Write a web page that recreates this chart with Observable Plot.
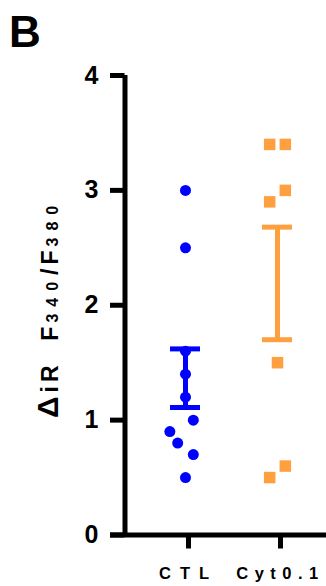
<!DOCTYPE html>
<html><head><meta charset="utf-8">
<script src="https://cdn.jsdelivr.net/npm/d3@7"></script>
<script src="https://cdn.jsdelivr.net/npm/@observablehq/plot@0.6"></script>
<style>
body{margin:0;background:#fff;}
#chart{position:absolute;left:0;top:0;}
</style></head><body>
<div id="chart"></div>
<script>
const categories = ["CTL", "Cyt0.1"];
const ctlValues = [3.0, 2.5, 1.6, 1.4, 1.2, 1.0, 0.9, 0.8, 0.7, 0.5];
const ctlJitter = [0, 0, 0, 0, 0, 0.085, -0.17, -0.085, 0.085, 0];
const cytValues = [3.4, 3.4, 3.0, 2.9, 1.5, 0.6, 0.5];
const cytJitter = [-0.085, 0.085, 0.085, -0.085, 0, 0.085, -0.085];
const errLow = [1.11, 1.70];
const errHigh = [1.62, 2.68];
const yTicks = [0, 1, 2, 3, 4];
const colors = ["#0000ff", "#ffa040"];
const labelSpacing = [9, 6.5];

const ctl = ctlValues.map((v, i) => ({x: 0 + ctlJitter[i], y: v}));
const cyt = cytValues.map((v, i) => ({x: 1 + cytJitter[i], y: v}));
const err = categories.map((c, i) => ({x: i, lo: errLow[i], hi: errHigh[i], c: colors[i]}));
const xDomain = [-0.6576, 1.5326];
const font = '"Liberation Sans", Arial, sans-serif';

const chart = Plot.plot({
  width: 326, height: 586,
  marginLeft: 124.5, marginRight: 0, marginTop: 75, marginBottom: 51.5,
  style: {fontFamily: font, background: "white", color: "black"},
  x: {domain: xDomain, axis: null},
  y: {domain: [0, 4], axis: null},
  marks: [
    Plot.axisY({ticks: yTicks, tickSize: 14.5, tickPadding: 12, strokeWidth: 5, fontSize: 25, fontWeight: "bold", label: null, tickFormat: d => String(d)}),
    Plot.axisX({ticks: [0, 1], tickFormat: i => categories[i], tickSize: 14, tickPadding: 18, strokeWidth: 5, fontSize: 16.5, fontWeight: "bold", label: null, dx: 3}),
    Plot.ruleX([xDomain[0]], {y1: 0, y2: 4, strokeWidth: 5}),
    Plot.ruleY([0], {strokeWidth: 5, insetLeft: -14.5}),
    Plot.ruleX(err, {x: "x", y1: "lo", y2: "hi", stroke: "c", strokeWidth: 5}),
    Plot.ruleY(err, {y: "lo", x1: "x", x2: "x", stroke: "c", strokeWidth: 5, insetLeft: -15, insetRight: -15}),
    Plot.ruleY(err, {y: "hi", x1: "x", x2: "x", stroke: "c", strokeWidth: 5, insetLeft: -15, insetRight: -15}),
    Plot.dot(ctl, {x: "x", y: "y", r: 5.5, fill: colors[0], stroke: null}),
    Plot.dot(cyt, {x: "x", y: "y", r: 6.5, symbol: "square", fill: colors[1], stroke: null})
  ]
});
document.getElementById("chart").appendChild(chart);

const svg = d3.select(chart);
svg.selectAll('g[aria-label="x-axis tick label"] text')
  .attr("letter-spacing", (d, i) => labelSpacing[i]);

// panel letter
svg.append("text")
  .attr("x", 9).attr("y", 47)
  .attr("text-anchor", "start")
  .attr("font-family", font).attr("font-weight", "bold").attr("font-size", 44)
  .attr("fill", "black").text("B");

// y-axis title
const lab = svg.append("text")
  .attr("transform", "translate(58,418) rotate(-90)")
  .attr("text-anchor", "start")
  .attr("font-family", font)
  .attr("font-weight", "bold")
  .attr("font-size", 23)
  .attr("letter-spacing", 4)
  .style("white-space", "pre")
  .attr("fill", "black");
lab.append("tspan").attr("font-size", 30).text("\u0394");
lab.append("tspan").text("iR  F");
lab.append("tspan").attr("font-size", 16).attr("letter-spacing", 7).text("340");
lab.append("tspan").text("/F");
lab.append("tspan").attr("font-size", 16).attr("letter-spacing", 7).text("380");
</script>
</body></html>
